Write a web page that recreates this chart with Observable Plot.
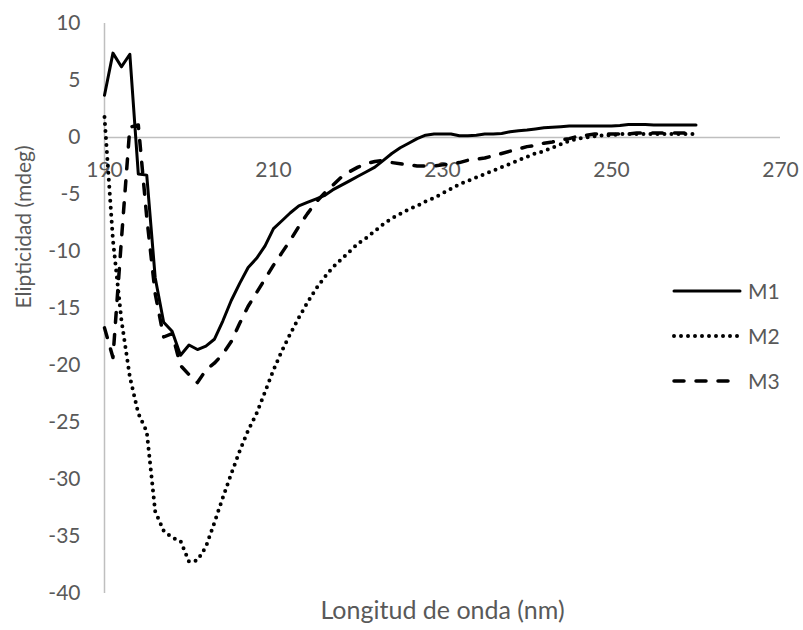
<!DOCTYPE html>
<html><head><meta charset="utf-8">
<script src="https://cdn.jsdelivr.net/npm/d3@7"></script>
<script src="https://cdn.jsdelivr.net/npm/@observablehq/plot@0.6"></script>
<style>
body{margin:0;background:#fff;}
#wrap{position:relative;width:803px;height:630px;font-family:Lato,"Open Sans",sans-serif;}
#legend{position:absolute;left:672px;top:268px;color:#595959;font-size:21px;font-family:Lato,"Open Sans",sans-serif;}
.item{display:flex;align-items:center;height:45px}
.item svg{margin-right:6px}
</style></head><body>
<div id="wrap"><div id="chart"></div><div id="legend"></div></div>
<script>
const wavelength = d3.range(190, 261);
const m1 = [3.7,7.4,6.2,7.3,-3.2,-3.3,-12.3,-16.2,-17.0,-19.1,
  -18.2,-18.6,-18.3,-17.7,-16.1,-14.3,-12.8,-11.4,-10.6,-9.5,
  -8.0,-7.3,-6.6,-6.0,-5.7,-5.4,-5.1,-4.6,-4.2,-3.8,
  -3.4,-3.0,-2.6,-2.0,-1.4,-0.9,-0.5,-0.1,0.2,0.3,
  0.3,0.3,0.15,0.15,0.2,0.3,0.3,0.35,0.5,0.6,
  0.65,0.75,0.85,0.9,0.95,1.0,1.0,1.0,1.0,1.0,
  1.0,1.05,1.15,1.15,1.15,1.1,1.1,1.1,1.1,1.1,1.1];
const m2 = [1.8,-9.0,-16.0,-21.0,-24.2,-25.8,-32.8,-34.5,-35.1,-35.4,
  -37.2,-37.1,-35.9,-33.8,-31.6,-29.5,-27.5,-25.7,-24.2,-22.3,
  -20.4,-18.7,-17.2,-15.8,-14.5,-13.3,-12.3,-11.4,-10.7,-10.0,
  -9.3,-8.8,-8.2,-7.6,-7.1,-6.7,-6.3,-6.0,-5.6,-5.3,
  -4.9,-4.5,-4.1,-3.8,-3.5,-3.2,-2.9,-2.6,-2.3,-2.0,
  -1.7,-1.4,-1.2,-0.9,-0.6,-0.3,-0.1,0.0,0.1,0.2,
  0.2,0.3,0.3,0.3,0.3,0.3,0.3,0.3,0.3,0.3,0.3];
const m3 = [-16.7,-19.3,-9.0,0.9,1.1,-7.0,-13.7,-17.5,-17.2,-20.0,
  -20.8,-21.5,-20.4,-19.8,-19.0,-17.9,-16.3,-14.8,-13.6,-12.4,
  -11.2,-10.1,-9.0,-7.8,-6.7,-5.7,-4.9,-4.2,-3.5,-3.0,
  -2.6,-2.3,-2.1,-2.0,-2.2,-2.3,-2.4,-2.5,-2.5,-2.5,
  -2.4,-2.3,-2.2,-2.0,-1.9,-1.8,-1.6,-1.4,-1.2,-1.0,
  -0.8,-0.7,-0.5,-0.4,-0.2,-0.1,0.1,0.2,0.3,0.3,
  0.3,0.3,0.3,0.4,0.4,0.4,0.4,0.4,0.4,0.4,0.5];
const seriesNames = ["M1","M2","M3"];
const xTicks = [190,210,230,250,270];
const yTicks = [10,5,0,-5,-10,-15,-20,-25,-30,-35,-40];
const xTitle = "Longitud de onda (nm)";
const yTitle = "Elipticidad (mdeg)";

const seriesValues = [m1, m2, m3];
const dashes = ["none", "0,7", "10,12"];
const widths = [3, 4, 3.5];
const rows = seriesNames.map((s, k) => wavelength.map((w, i) => ({w, v: seriesValues[k][i], s})));

const grey = "#595959";
const axisGrey = "#bfbfbf";

const chart = Plot.plot({
  width: 803,
  height: 630,
  marginLeft: 104,
  marginRight: 23,
  marginTop: 23,
  marginBottom: 37,
  style: {fontFamily: "Lato, 'Open Sans', sans-serif", background: "#fff"},
  x: {domain: [190, 270], axis: null},
  y: {domain: [-40, 10]},
  marks: [
    Plot.ruleX([190], {stroke: axisGrey, strokeWidth: 1.5}),
    Plot.ruleY([0], {stroke: axisGrey, strokeWidth: 1.5}),
    Plot.axisY(yTicks, {tickSize: 0, tickPadding: 24, fill: grey, fontSize: 21, label: null, tickFormat: d => String(d)}),
    Plot.text(xTicks, {x: d => d, y: 0, dy: 33, text: d => String(d), fill: grey, fontSize: 21}),
    Plot.text([yTitle], {frameAnchor: "left", rotate: -90, dx: -80, fill: grey, fontSize: 21}),
    Plot.text([xTitle], {frameAnchor: "bottom", dy: 25, fill: grey, fontSize: 25}),
    ...rows.map((r, k) => Plot.line(r, {x: "w", y: "v", stroke: "#000", strokeWidth: widths[k], strokeDasharray: dashes[k], strokeLinejoin: "round", strokeLinecap: "round"}))
  ]
});
document.getElementById("chart").appendChild(chart);

const legend = document.getElementById("legend");
seriesNames.forEach((s, k) => {
  const item = document.createElement("div");
  item.className = "item";
  item.innerHTML = `<svg width="70" height="8"><line x1="2" y1="4" x2="68" y2="4" stroke="#000" stroke-width="${widths[k]}" stroke-linecap="round" stroke-dasharray="${dashes[k]}"></line></svg><span>${s}</span>`;
  legend.appendChild(item);
});
</script>
</body></html>
